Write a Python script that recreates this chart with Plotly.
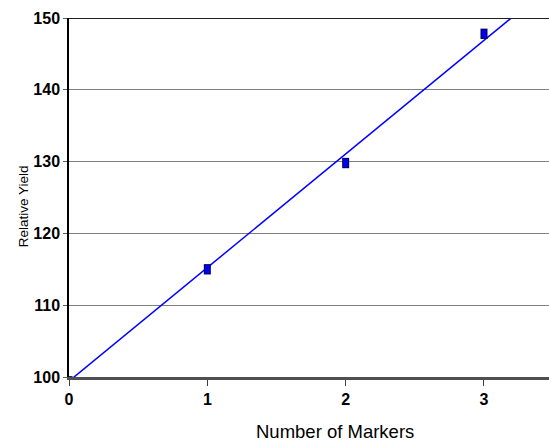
import numpy as np
import plotly.graph_objects as go

# Relative yield vs number of markers
markers = [0, 1, 2, 3]
rel_yield = [100.0, 115.0, 129.8, 147.8]
half_height = [0.0, 0.6, 0.6, 0.6]

x_ticks = [0, 1, 2, 3]
y_ticks = [100, 110, 120, 130, 140, 150]

x_title = "Number of Markers"
y_title = "Relative Yield"

# Least-squares trend through the points
slope, intercept = np.polyfit(markers, rel_yield, 1)
fit_x = np.array([0, 3.5])
fit_y = intercept + slope * fit_x

fig = go.Figure()

fig.add_trace(go.Scatter(
    x=fit_x, y=fit_y, mode="lines",
    line=dict(color="#0000ff", width=1.5),
    hoverinfo="skip", showlegend=False,
))

# Data points drawn as small upright blocks (outline then fill)
fig.add_trace(go.Scatter(
    x=markers, y=rel_yield, mode="markers",
    marker=dict(size=1, color="rgba(0,0,0,0)"),
    error_y=dict(type="data", array=[h + 0.12 for h in half_height],
                 color="#000050", thickness=7, width=0),
    showlegend=False,
))
fig.add_trace(go.Scatter(
    x=markers, y=rel_yield, mode="markers",
    marker=dict(size=1, color="rgba(0,0,0,0)"),
    error_y=dict(type="data", array=half_height,
                 color="#0000ee", thickness=5, width=0),
    showlegend=False,
))

fig.add_shape(type="line", xref="paper", x0=0, x1=1, yref="y",
              y0=y_ticks[-1], y1=y_ticks[-1],
              line=dict(color="#202020", width=2))

# Axis titles
fig.add_annotation(text=x_title, xref="paper", yref="paper",
                   x=0.555, y=-0.152, showarrow=False,
                   xanchor="center", yanchor="middle",
                   font=dict(size=18.5, family="Liberation Sans, Arial"))
fig.add_annotation(text=y_title, xref="paper", yref="paper",
                   x=-0.094, y=0.475, showarrow=False, textangle=-90,
                   xanchor="center", yanchor="middle",
                   font=dict(size=13.5, family="Liberation Sans, Arial"))

fig.update_layout(
    width=549, height=441,
    margin=dict(l=69, r=0, t=18, b=64),
    paper_bgcolor="white", plot_bgcolor="white",
    font=dict(family="Liberation Sans, Arial, sans-serif", color="black"),
    xaxis=dict(
        range=[0, 3.47], tickvals=x_ticks, ticktext=[str(v) for v in x_ticks],
        tickfont=dict(size=16, family="Liberation Sans, Arial", weight="bold"),
        showgrid=False, zeroline=False,
        showline=True, linecolor="#505050", linewidth=3,
        ticks="outside", ticklen=6, tickcolor="#404040", tickwidth=1,
    ),
    yaxis=dict(
        range=[100, 150], tickvals=y_ticks, ticktext=[str(v) for v in y_ticks],
        tickfont=dict(size=16, family="Liberation Sans, Arial", weight="bold"),
        showgrid=True, gridcolor="#808080", gridwidth=1.3, zeroline=False,
        showline=True, linecolor="black", linewidth=1.5,
        ticks="outside", ticklen=4, tickcolor="#606060", tickwidth=1,
    ),
)

fig.write_html("out.html")
